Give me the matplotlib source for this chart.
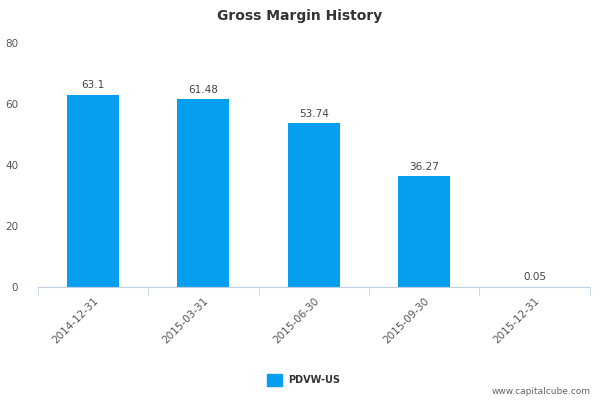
import matplotlib
matplotlib.use('Agg')
import matplotlib.pyplot as plt
import numpy as np

dates = ['2014-12-31', '2015-03-31', '2015-06-30', '2015-09-30', '2015-12-31']
values = [63.1, 61.48, 53.74, 36.27, 0.05]
labels = ['63.1', '61.48', '53.74', '36.27', '0.05']
color = '#069ff0'

fig = plt.figure(figsize=(6, 4), dpi=100)
ax = fig.add_axes([0.063, 0.2825, 0.92, 0.61])
x = np.arange(len(dates))
ax.bar(x, values, width=0.47, color=color, zorder=2)
for xi, v, lab in zip(x, values, labels):
    ax.text(xi, v + 1.5, lab, ha='center', va='bottom', fontsize=7.5, color='#444444')

ax.set_xlim(-0.5, len(dates) - 0.5)
ax.set_ylim(0, 80)
ax.set_yticks([0, 20, 40, 60, 80])
ax.tick_params(axis='y', length=0, labelsize=7.5, labelcolor='#555555', pad=14)
ax.set_xticks(x)
ax.set_xticklabels(dates, rotation=45, ha='right', rotation_mode='anchor',
                   fontsize=7.5, color='#555555')
ax.set_xticks(np.arange(-0.5, len(dates)), minor=True)
ax.tick_params(axis='x', which='major', length=0, pad=6)
ax.tick_params(axis='x', which='minor', length=6, color='#c0d0e0')
for s in ['top', 'right', 'left']:
    ax.spines[s].set_visible(False)
ax.spines['bottom'].set_color('#c0d0e0')

fig.text(0.5, 0.96, 'Gross Margin History', ha='center', va='center',
         fontsize=10, fontweight='bold', color='#333333')
fig.patches.append(plt.Rectangle((0.445, 0.035), 0.025, 0.03, transform=fig.transFigure,
                                 color=color, figure=fig))
fig.text(0.48, 0.05, 'PDVW-US', ha='left', va='center', fontsize=7,
         fontweight='bold', color='#333333')
fig.text(0.985, 0.022, 'www.capitalcube.com', ha='right', va='center',
         fontsize=6.5, color='#666666')

fig.savefig('out.png', dpi=100)
